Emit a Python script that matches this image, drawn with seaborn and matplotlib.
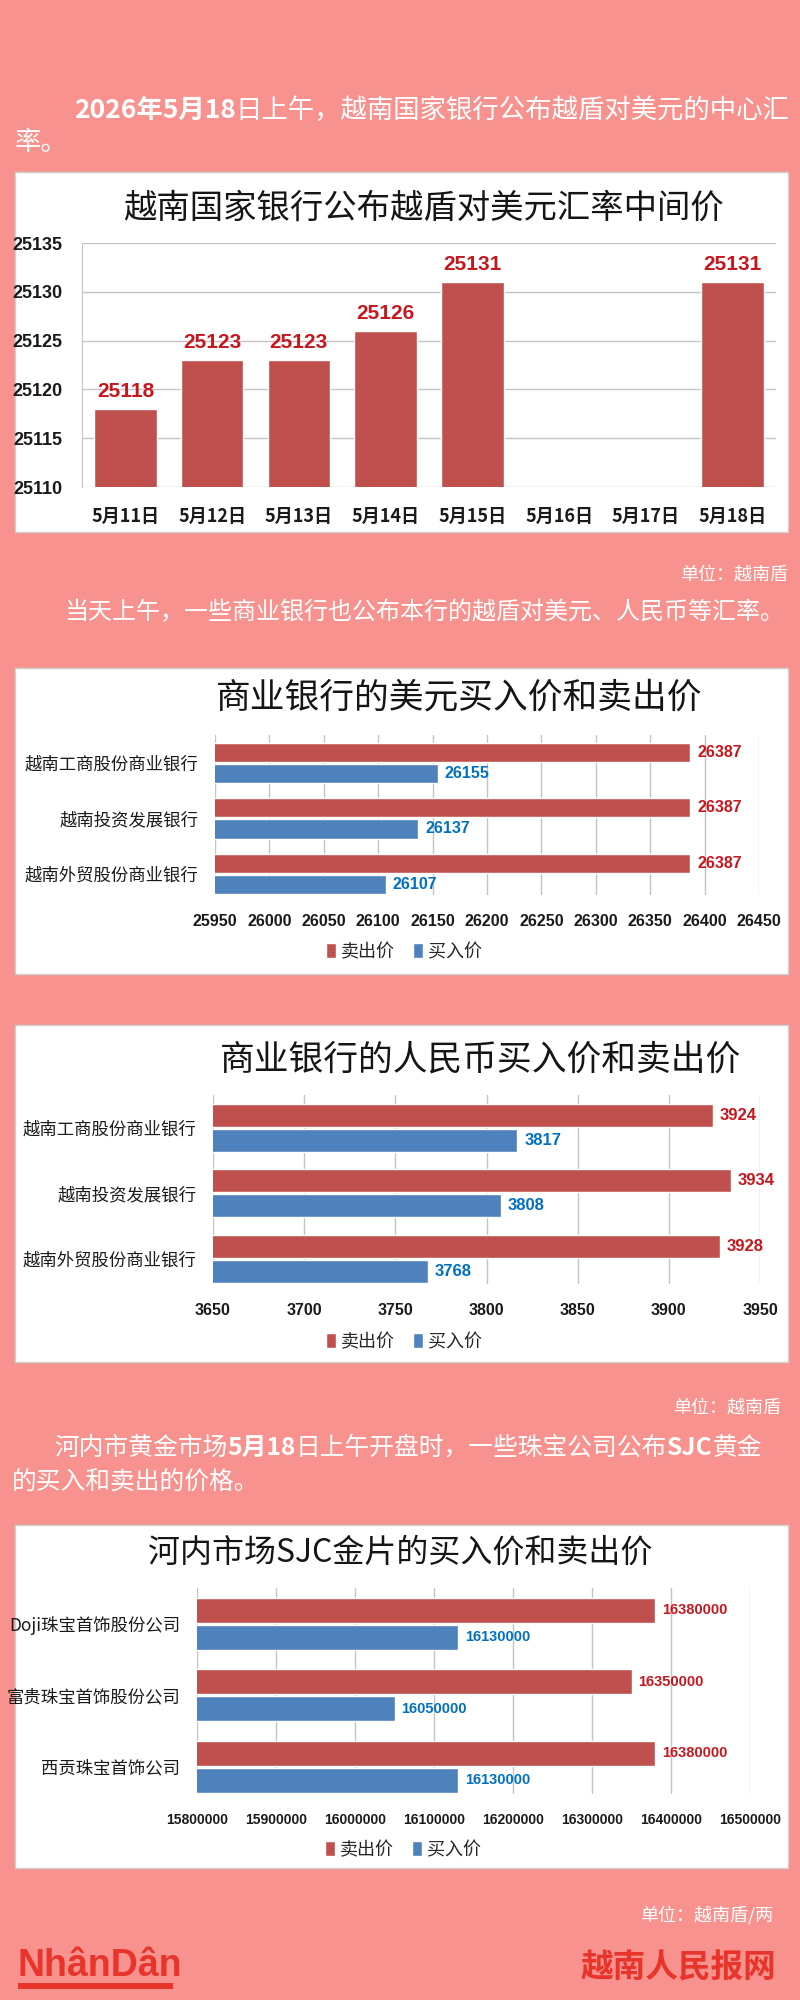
import numpy as np
import pandas as pd
import matplotlib.pyplot as plt
from matplotlib.patches import Rectangle
from matplotlib.ticker import FuncFormatter
import seaborn as sns

# ---- data ----
dates = ['5月11日', '5月12日', '5月13日', '5月14日', '5月15日', '5月16日', '5月17日', '5月18日']
central_rate = [25118, 25123, 25123, 25126, 25131, None, None, 25131]

banks = ['越南工商股份商业银行', '越南投资发展银行', '越南外贸股份商业银行']
usd_sell = [26387, 26387, 26387]
usd_buy = [26155, 26137, 26107]
cny_sell = [3924, 3934, 3928]
cny_buy = [3817, 3808, 3768]

gold_firms = ['Doji珠宝首饰股份公司', '富贵珠宝首饰股份公司', '西贡珠宝首饰公司']
gold_sell = [16380000, 16350000, 16380000]
gold_buy = [16130000, 16050000, 16130000]

series_names = ['卖出价', '买入价']

# ---- style ----
PINK = '#F8928E'
RED = '#C0504D'
BLUE = '#4F81BD'
LBL_RED = '#C8161D'
LBL_BLUE = '#0070C0'
GRID = '#C4C4C4'
NUM_FONT = ['Liberation Sans Narrow', 'Liberation Sans', 'DejaVu Sans']

sns.set_style('white')
plt.rcParams['font.family'] = ['Noto Sans CJK SC', 'DejaVu Sans']

W, H = 800, 2000
fig = plt.figure(figsize=(8, 20), dpi=100)
fig.patch.set_facecolor(PINK)
renderer = fig.canvas.get_renderer()


def fx(x):
    return x / W


def fy(y):
    return 1 - y / H


def white_box(y0, y1):
    fig.patches.append(Rectangle((fx(15), fy(y1)), (788 - 15) / W, (y1 - y0) / H,
                                 transform=fig.transFigure, facecolor='white',
                                 edgecolor='#D0D0D0', lw=1, zorder=-5))


def add_axes(x0, y0, x1, y1):
    return fig.add_axes([fx(x0), fy(y1), (x1 - x0) / W, (y1 - y0) / H])


def rich_line(x, y, parts, fs):
    # white text with some bold pieces, laid out left to right
    for s, bold in parts:
        t = fig.text(fx(x), fy(y), s, color='white', fontsize=fs, va='center', ha='left',
                     fontweight='bold' if bold else 'normal')
        x += t.get_window_extent(renderer).width


# ---- header texts ----
rich_line(74, 110, [('2026年5月18', True), ('日上午，越南国家银行公布越盾对美元的中心汇', False)], 19)
rich_line(15, 143, [('率。', False)], 19)

# ---- panel 1: central rate ----
white_box(172, 532)
fig.text(fx(423), fy(208), '越南国家银行公布越盾对美元汇率中间价', fontsize=24,
         ha='center', va='center', color='#151515', fontweight='medium')

ax1 = add_axes(82, 243, 776, 487)
df1 = pd.DataFrame({'date': dates, 'rate': central_rate}).dropna()
sns.barplot(data=df1, x='date', y='rate', order=dates, color=RED, saturation=1,
            width=0.72, errorbar=None, ax=ax1)
ax1.bar_label(ax1.containers[0], fmt='{:.0f}', padding=6, color=LBL_RED,
              fontsize=15, fontweight='bold', fontfamily=NUM_FONT)
ax1.set_ylim(25110, 25135)
ax1.set_xlim(-0.5, 7.5)
ax1.set_yticks(range(25110, 25136, 5))
ax1.yaxis.grid(True, color=GRID, lw=1)
ax1.set_axisbelow(True)
ax1.set_xlabel('')
ax1.set_ylabel('')
for s in ['top', 'right', 'bottom']:
    ax1.spines[s].set_visible(False)
ax1.spines['left'].set_color(GRID)
ax1.tick_params(axis='both', length=0)
ax1.tick_params(axis='y', pad=14)
ax1.tick_params(axis='x', pad=14)
for t in ax1.get_yticklabels():
    t.set_fontfamily(NUM_FONT)
    t.set_fontweight('bold')
    t.set_fontsize(13)
    t.set_color('#1a1a1a')
for t in ax1.get_xticklabels():
    t.set_fontweight('bold')
    t.set_fontsize(13)
    t.set_color('#1a1a1a')

fig.text(fx(788), fy(575), '单位：越南盾', color='white', fontsize=13,
         ha='right', va='center')
rich_line(64, 612, [('当天上午，一些商业银行也公布本行的越盾对美元、人民币等汇率。', False)], 17.3)


# ---- horizontal bar panels ----
def hbar_panel(box, axrect, title, title_x, title_y, title_fs, cats, sell, buy,
               xlim, step, legend_xy, cat_fs, val_fs, tick_fs):
    white_box(*box)
    fig.text(fx(title_x), fy(title_y), title, fontsize=title_fs, ha='center',
             va='center', color='#151515', fontweight='medium')
    ax = add_axes(*axrect)
    df = pd.DataFrame({
        'cat': cats * 2,
        'type': [series_names[0]] * len(cats) + [series_names[1]] * len(cats),
        'value': list(sell) + list(buy),
    })
    sns.barplot(data=df, y='cat', x='value', hue='type', order=cats,
                hue_order=series_names, palette=[RED, BLUE], saturation=1,
                orient='h', width=0.76, gap=0.08, errorbar=None, ax=ax)
    for cont, col in zip(ax.containers, [LBL_RED, LBL_BLUE]):
        ax.bar_label(cont, fmt='{:.0f}', padding=5, color=col, fontsize=val_fs,
                     fontweight='bold', fontfamily=NUM_FONT)
    ax.set_xlim(*xlim)
    ax.set_ylim(2.38, -0.5)
    ax.set_xticks(np.arange(xlim[0], xlim[1] + step / 2, step))
    ax.xaxis.set_major_formatter(FuncFormatter(lambda v, p: f'{v:.0f}'))
    ax.xaxis.grid(True, color=GRID, lw=1)
    ax.yaxis.grid(False)
    ax.set_axisbelow(True)
    ax.set_xlabel('')
    ax.set_ylabel('')
    for s in ['top', 'right', 'bottom', 'left']:
        ax.spines[s].set_visible(False)
    ax.tick_params(axis='both', length=0)
    ax.tick_params(axis='x', pad=14)
    ax.tick_params(axis='y', pad=12)
    for t in ax.get_xticklabels():
        t.set_fontfamily(NUM_FONT)
        t.set_fontweight('bold')
        t.set_fontsize(tick_fs)
        t.set_color('#1a1a1a')
    for t in ax.get_yticklabels():
        t.set_fontsize(cat_fs)
        t.set_color('#1a1a1a')
    handles, labels = ax.get_legend_handles_labels()
    ax.legend(handles, labels, loc='center', bbox_to_anchor=(fx(legend_xy[0]), fy(legend_xy[1])),
              bbox_transform=fig.transFigure, ncol=2, frameon=False, handlelength=0.55,
              handleheight=0.9, handletextpad=0.3, columnspacing=1.0, fontsize=13)
    return ax


hbar_panel((668, 974), (215, 735, 759, 895), '商业银行的美元买入价和卖出价', 459, 698, 25,
           banks, usd_sell, usd_buy, (25950, 26450), 50, (404, 952), 12.5, 11.5, 11.5)

hbar_panel((1025, 1362), (213, 1095, 760, 1284), '商业银行的人民币买入价和卖出价', 480, 1060, 25,
           banks, cny_sell, cny_buy, (3650, 3950), 50, (404, 1342), 12.5, 12, 11.5)

fig.text(fx(781), fy(1408), '单位：越南盾', color='white', fontsize=13,
         ha='right', va='center')
rich_line(54, 1448, [('河内市黄金市场', False), ('5月18', True),
                     ('日上午开盘时，一些珠宝公司公布', False), ('SJC', True), ('黄金', False)], 17.8)
rich_line(12, 1483, [('的买入和卖出的价格。', False)], 17.8)

hbar_panel((1525, 1868), (197, 1588, 750, 1794), '河内市场SJC金片的买入价和卖出价', 400, 1553, 23,
           gold_firms, gold_sell, gold_buy, (15800000, 16500000), 100000, (403, 1850),
           12.5, 10.5, 10)

fig.text(fx(773), fy(1915), '单位：越南盾/两', color='white', fontsize=13,
         ha='right', va='center')

# ---- footer logos ----
fig.text(fx(18), fy(1966), 'NhânDân', color='#E8342B', fontsize=27, fontweight='bold',
         fontfamily=NUM_FONT, ha='left', va='center')
fig.patches.append(Rectangle((fx(18), fy(1989)), (173 - 18) / W, 6 / H,
                             transform=fig.transFigure, facecolor='#E8342B',
                             edgecolor='none'))
fig.text(fx(776), fy(1968), '越南人民报网', color='#E8342B', fontsize=23.5,
         fontweight='bold', ha='right', va='center')

fig.savefig('out.png', dpi=100, facecolor=PINK)
